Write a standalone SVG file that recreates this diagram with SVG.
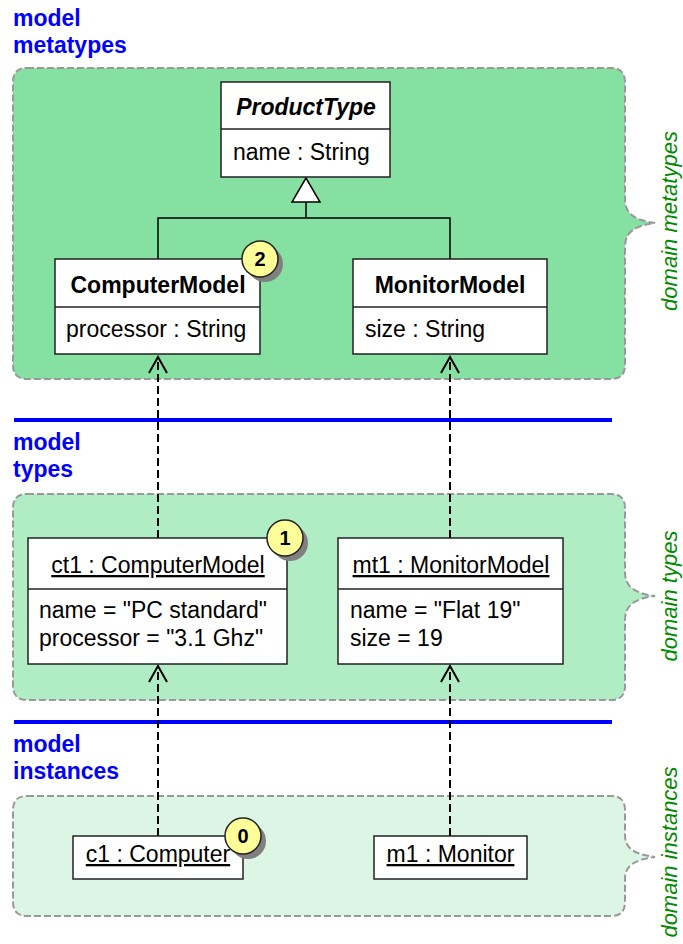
<svg xmlns="http://www.w3.org/2000/svg" width="683" height="944" viewBox="0 0 683 944">
<style>
.region{stroke:#999;stroke-width:2;stroke-dasharray:7,3}
.box{fill:#fff;stroke:#222;stroke-width:1.5}
.div{stroke:#222;stroke-width:1.5}
.t{font-family:"Liberation Sans",Arial,sans-serif;font-size:23px;fill:#000}
.b{font-weight:bold}
.c{text-anchor:middle}
.u{text-decoration:underline}
.lbl{font-family:"Liberation Sans",Arial,sans-serif;font-size:23px;font-weight:bold;fill:#0000ff}
.side{font-family:"Liberation Sans",Arial,sans-serif;font-size:22px;font-style:italic;fill:#008a00;text-anchor:middle}
.sep{stroke:#0000ff;stroke-width:4}
.dep{stroke:#000;stroke-width:2;stroke-dasharray:8,4;fill:none}
.gen{stroke:#000;stroke-width:1.5;fill:none}
.badge{fill:#ffff99;stroke:#222;stroke-width:1.5}
.shadow{fill:#808080}
.bt{font-family:"Liberation Sans",Arial,sans-serif;font-size:20px;font-weight:bold;text-anchor:middle;fill:#000}
</style>
<defs>
<marker id="open" markerUnits="userSpaceOnUse" markerWidth="20" markerHeight="20" viewBox="0 0 20 20" refX="18" refY="10" orient="auto">
<path d="M2,1 L18,10 L2,19" fill="none" stroke="#000" stroke-width="2"/>
</marker>
</defs>

<g id="regions">
<path id="region-metatypes" class="region" fill="#85e0a2" d="M27,68 H611 Q625,68 625,82 V199 C625,212 632,220 655,223 C632,226 625,234 625,247 V365 Q625,379 611,379 H27 Q13,379 13,365 V82 Q13,68 27,68 Z"/>
<path id="region-types" class="region" fill="#b0ecc4" d="M27,494 H611 Q625,494 625,508 V572 C625,585 632,593 655,596 C632,599 625,607 625,620 V686 Q625,700 611,700 H27 Q13,700 13,686 V508 Q13,494 27,494 Z"/>
<path id="region-instances" class="region" fill="#dcf5e4" d="M27,796 H611 Q625,796 625,810 V835 C625,847 632,854 655,857 C632,860 625,867 625,879 V902 Q625,916 611,916 H27 Q13,916 13,902 V810 Q13,796 27,796 Z"/>
</g>

<g id="labels">
<text class="lbl" x="13" y="26">model</text>
<text class="lbl" x="13" y="53">metatypes</text>
<text class="lbl" x="13" y="450">model</text>
<text class="lbl" x="13" y="477">types</text>
<text class="lbl" x="13" y="752">model</text>
<text class="lbl" x="13" y="779">instances</text>
<line class="sep" x1="14" y1="420" x2="612" y2="420"/>
<line class="sep" x1="14" y1="722" x2="612" y2="722"/>
<text class="side" transform="translate(677,221) rotate(-90)">domain metatypes</text>
<text class="side" transform="translate(677,596) rotate(-90)">domain types</text>
<text class="side" transform="translate(677,852) rotate(-90)">domain instances</text>
</g>

<g id="connectors">
<path class="gen" d="M158,259 V218 H450 V259 M306,218 V202"/>
<polygon points="306,178 292,202 320,202" fill="#fff" stroke="#000" stroke-width="1.5"/>
<line class="dep" x1="158" y1="538" x2="158" y2="357" marker-end="url(#open)"/>
<line class="dep" x1="450" y1="538" x2="450" y2="357" marker-end="url(#open)"/>
<line class="dep" x1="158" y1="836" x2="158" y2="666" marker-end="url(#open)"/>
<line class="dep" x1="450" y1="836" x2="450" y2="666" marker-end="url(#open)"/>
</g>

<g id="ProductType">
<rect class="box" x="221" y="82" width="169" height="95"/>
<line class="div" x1="221" y1="129" x2="390" y2="129"/>
<text class="t b c" x="306" y="115" font-style="italic">ProductType</text>
<text class="t" x="233" y="160">name : String</text>
</g>

<g id="ComputerModel">
<rect class="box" x="55" y="259" width="205" height="95"/>
<line class="div" x1="55" y1="307" x2="260" y2="307"/>
<text class="t b c" x="158" y="293">ComputerModel</text>
<text class="t" x="66" y="337">processor : String</text>
</g>

<g id="MonitorModel">
<rect class="box" x="353" y="259" width="194" height="95"/>
<line class="div" x1="353" y1="307" x2="547" y2="307"/>
<text class="t b c" x="450" y="293">MonitorModel</text>
<text class="t" x="365" y="337">size : String</text>
</g>

<g id="ct1">
<rect class="box" x="28" y="538" width="259" height="126"/>
<line class="div" x1="28" y1="589" x2="287" y2="589"/>
<text class="t c u" x="158" y="573">ct1 : ComputerModel</text>
<text class="t" x="39" y="618">name = "PC standard"</text>
<text class="t" x="39" y="646">processor = "3.1 Ghz"</text>
</g>

<g id="mt1">
<rect class="box" x="338" y="538" width="225" height="126"/>
<line class="div" x1="338" y1="589" x2="563" y2="589"/>
<text class="t c u" x="451" y="573">mt1 : MonitorModel</text>
<text class="t" x="350" y="618">name = "Flat 19"</text>
<text class="t" x="350" y="646">size = 19</text>
</g>

<g id="c1">
<rect class="box" x="73" y="836" width="170" height="43"/>
<text class="t c u" x="158" y="862">c1 : Computer</text>
</g>

<g id="m1">
<rect class="box" x="374" y="836" width="153" height="43"/>
<text class="t c u" x="450.5" y="862">m1 : Monitor</text>
</g>

<g id="badge-2">
<circle class="shadow" cx="265" cy="264" r="18"/>
<circle class="badge" cx="260" cy="259" r="18"/>
<text class="bt" x="260" y="266">2</text>
</g>
<g id="badge-1">
<circle class="shadow" cx="290" cy="543" r="18"/>
<circle class="badge" cx="285" cy="538" r="18"/>
<text class="bt" x="285" y="545">1</text>
</g>
<g id="badge-0">
<circle class="shadow" cx="248" cy="841" r="18"/>
<circle class="badge" cx="243" cy="836" r="18"/>
<text class="bt" x="243" y="843">0</text>
</g>
</svg>
